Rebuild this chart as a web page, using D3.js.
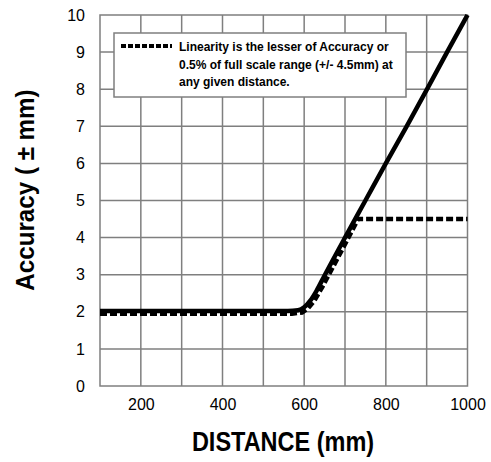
<!DOCTYPE html>
<html><head><meta charset="utf-8">
<script src="https://cdn.jsdelivr.net/npm/d3@7/dist/d3.min.js"></script>
<style>
html,body{margin:0;padding:0;background:#fff;}
svg{display:block;}
</style></head>
<body><svg id="c" width="491" height="462"></svg>
<script>
const xTicks = [200, 400, 600, 800, 1000];
const xGrid = [200, 300, 400, 500, 600, 700, 800, 900];
const yTicks = [0,1,2,3,4,5,6,7,8,9,10];
const accuracyX = [100, 560, 585, 600, 615, 630, 650, 700, 750, 800, 851, 901, 950, 1000];
const accuracyY = [2.02, 2.02, 2.04, 2.12, 2.3, 2.56, 2.98, 4.0, 5.0, 6.0, 7.0, 8.0, 9.0, 10.0];
const linearityX = [100, 570, 595, 610, 625, 645, 700, 732, 1000];
const linearityY = [1.95, 1.95, 1.98, 2.1, 2.3, 2.68, 3.82, 4.5, 4.5];
const legendLines = ["Linearity is the lesser of Accuracy or", "0.5% of full scale range (+/- 4.5mm) at", "any given distance."];
const xTitle = "DISTANCE (mm)";
const yTitle = "Accuracy ( \u00b1 mm)";

const svg = d3.select("#c");
const L = 100, R = 467.5, T = 15, B = 386;
const x = d3.scaleLinear().domain([100, 1000]).range([L, R]);
const y = d3.scaleLinear().domain([0, 10]).range([B, T]);
const grid = "#7f7f7f";
const font = "'Liberation Sans', Arial, sans-serif";

// grid
svg.append("g").selectAll("line").data(xGrid).join("line")
  .attr("x1", d => x(d)).attr("x2", d => x(d)).attr("y1", T).attr("y2", B)
  .attr("stroke", grid).attr("stroke-width", 1.5);
svg.append("g").selectAll("line").data(yTicks.slice(1, -1)).join("line")
  .attr("y1", d => y(d)).attr("y2", d => y(d)).attr("x1", L).attr("x2", R)
  .attr("stroke", grid).attr("stroke-width", 1.5);
svg.append("rect").attr("x", L).attr("y", T).attr("width", R - L).attr("height", B - T)
  .attr("fill", "none").attr("stroke", grid).attr("stroke-width", 1.5);

// axes labels
const xa = svg.append("g").attr("transform", `translate(0,${B})`)
  .call(d3.axisBottom(x).tickValues(xTicks).tickFormat(d3.format("d")).tickSize(0).tickPadding(13));
xa.select(".domain").remove();
xa.selectAll("text").attr("font-family", font).attr("font-size", 16).attr("fill", "#000");
const ya = svg.append("g").attr("transform", `translate(${L},0)`)
  .call(d3.axisLeft(y).tickValues(yTicks).tickFormat(d3.format("d")).tickSize(0).tickPadding(15));
ya.select(".domain").remove();
ya.selectAll("text").attr("font-family", font).attr("font-size", 16).attr("fill", "#000");

// lines
const lin = d3.range(linearityX.length).map(i => [linearityX[i], linearityY[i]]);
const acc = d3.range(accuracyX.length).map(i => [accuracyX[i], accuracyY[i]]);
svg.append("path").datum(lin).attr("d", d3.line().x(d => x(d[0])).y(d => y(d[1])))
  .attr("fill", "none").attr("stroke", "#000").attr("stroke-width", 4.5)
  .attr("stroke-dasharray", "7,3");
svg.append("path").datum(acc).attr("d", d3.line().x(d => x(d[0])).y(d => y(d[1])).curve(d3.curveMonotoneX))
  .attr("fill", "none").attr("stroke", "#000").attr("stroke-width", 4.5).attr("stroke-linejoin", "round");

// legend
svg.append("rect").attr("x", 114).attr("y", 33).attr("width", 292).attr("height", 64)
  .attr("fill", "#fff").attr("stroke", grid).attr("stroke-width", 1.5);
svg.append("line").attr("x1", 121).attr("x2", 172).attr("y1", 46).attr("y2", 46)
  .attr("stroke", "#000").attr("stroke-width", 4).attr("stroke-dasharray", "5,2");
svg.append("g").selectAll("text").data(legendLines).join("text")
  .attr("x", 179).attr("y", (d, i) => 51 + i * 17.5)
  .attr("font-family", font).attr("font-weight", "bold")
  .attr("font-size", 12).attr("fill", "#000").text(d => d);

// titles
svg.append("text").attr("transform", "translate(283,451) scale(0.87,1)").attr("text-anchor", "middle")
  .attr("font-family", font).attr("font-weight", "bold").attr("font-size", 27).attr("fill", "#000").text(xTitle);
svg.append("text").attr("transform", "translate(34,190) rotate(-90) scale(0.93,1)").attr("text-anchor", "middle")
  .attr("font-family", font).attr("font-weight", "bold").attr("font-size", 26).attr("fill", "#000").text(yTitle);
</script></body></html>
